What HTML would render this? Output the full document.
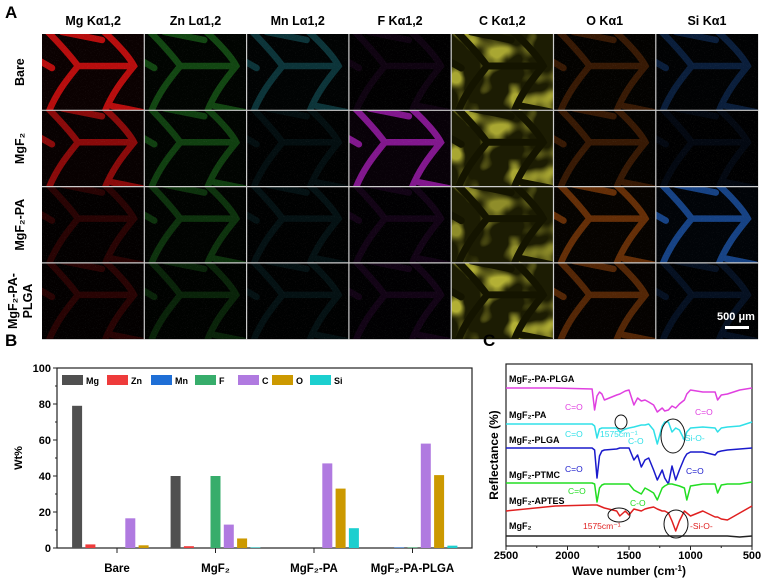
<!DOCTYPE html>
<html><head><meta charset="utf-8"><style>
html,body{margin:0;padding:0;background:#fff;}
body{width:764px;height:581px;overflow:hidden;font-family:"Liberation Sans",Arial,sans-serif;}
svg text{font-family:"Liberation Sans",Arial,sans-serif;}
</style></head><body>
<svg id="fig" width="764" height="581" viewBox="0 0 764 581" xmlns="http://www.w3.org/2000/svg">
<defs>
<filter id="speck" x="0" y="0" width="100%" height="100%">
<feTurbulence type="fractalNoise" baseFrequency="0.9" numOctaves="1" seed="3"/>
<feColorMatrix type="matrix" values="0 0 0 0 1  0 0 0 0 1  0 0 0 0 1  0 0 0 2.2 -1.2"/>
</filter>
<filter id="blotch" x="0" y="0" width="100%" height="100%">
<feTurbulence type="fractalNoise" baseFrequency="0.035" numOctaves="2" seed="7"/>
<feColorMatrix type="matrix" values="0 0 0 0 0.62  0 0 0 0 0.6  0 0 0 0 0.05  0 0 0 5 -2.5"/>
</filter>
<clipPath id="cellclip"><rect x="0" y="0" width="102" height="76"/></clipPath>
</defs>
<g id="panelA"></g>
<g id="panelB"></g>
<g id="panelC"></g>
</svg>
<script>
const NS='http://www.w3.org/2000/svg';
function mk(tag,attrs,parent,txt){const e=document.createElementNS(NS,tag);for(const k in attrs)e.setAttribute(k,attrs[k]);if(txt!==undefined)e.textContent=txt;parent.appendChild(e);return e;}

// ---------- Panel A ----------
const colHeaders=['Mg Kα1,2','Zn Lα1,2','Mn Lα1,2','F Kα1,2','C Kα1,2','O Kα1','Si Kα1'];
const colColors=['#e01010','#2aa02a','#28a8b8','#b020c0','#c8c820','#d06010','#2060c0'];
const rowLabels=['Bare','MgF₂','MgF₂-PA','MgF₂-PA-PLGA'];
const intens=[[0.95,0.5,0.35,0.1,0.8,0.3,0.35],[0.7,0.45,0.1,0.85,0.8,0.3,0.1],[0.2,0.35,0.12,0.12,0.65,0.55,0.8],[0.2,0.25,0.12,0.12,0.85,0.45,0.2]];
const A=document.getElementById('panelA');
mk('text',{x:5,y:18,'font-size':17,'font-weight':'bold'},A,'A');
const x0=42,y0=34,cw=102.3,ch=76.3;
mk('rect',{x:x0,y:y0,width:cw*7,height:ch*4,fill:'#000'},A);
colHeaders.forEach((h,i)=>{const t=mk('text',{x:x0+cw*i+cw/2,y:25,'font-size':12.5,'font-weight':'bold','text-anchor':'middle'},A,h);
});
rowLabels.forEach((r,j)=>{const cy=y0+ch*j+ch/2;
 if(j<3){const t=mk('text',{transform:`translate(24,${cy}) rotate(-90)`,'font-size':12.5,'font-weight':'bold','text-anchor':'middle'},A,r);}
 else{const t=mk('text',{transform:`translate(17,${cy}) rotate(-90)`,'font-size':12.5,'font-weight':'bold','text-anchor':'middle'},A,'MgF₂-PA-');
 const t2=mk('text',{transform:`translate(32,${cy}) rotate(-90)`,'font-size':12.5,'font-weight':'bold','text-anchor':'middle'},A,'PLGA');}
});
const stentD='M4 -4 C18 10 30 24 36 32 C28 42 14 58 6 80 M36 32 L92 32 M60 -4 C76 10 88 24 92 32 C84 42 70 58 62 80 M20 -2 L60 6 M70 72 L100 78 M-4 26 L10 34';
for(let j=0;j<4;j++)for(let i=0;i<7;i++){
 const g=mk('g',{transform:`translate(${x0+cw*i},${y0+ch*j})`,'clip-path':'url(#cellclip)'},A);
 
 const v=intens[j][i],c=colColors[i];
 if(i===4){
  mk('rect',{x:0,y:0,width:102,height:76,fill:'#1c1c03'},g);
  mk('rect',{x:0,y:0,width:102,height:76,filter:'url(#blotch)',opacity:v},g);
  mk('path',{d:stentD,fill:'none',stroke:'#141400',"stroke-width":7,'stroke-linecap':'round'},g);
 } else {
  mk('rect',{x:0,y:0,width:102,height:76,fill:c,opacity:v*0.05},g);
  mk('path',{d:stentD,fill:'none',stroke:c,"stroke-width":6.5,opacity:v*0.85,'stroke-linecap':'round'},g);
  mk('rect',{x:0,y:0,width:102,height:76,filter:'url(#speck)',opacity:0.1},g);
 }
}
for(let i=1;i<7;i++)mk('line',{x1:x0+cw*i,y1:y0,x2:x0+cw*i,y2:y0+ch*4,stroke:'#ccc','stroke-width':1.2},A);
for(let j=1;j<4;j++)mk('line',{x1:x0,y1:y0+ch*j,x2:x0+cw*7,y2:y0+ch*j,stroke:'#ccc','stroke-width':1.2},A);
mk('text',{x:736,y:320,'font-size':11,'font-weight':'bold','text-anchor':'middle',fill:'#fff'},A,'500 μm');
mk('rect',{x:725,y:326,width:24,height:3,fill:'#fff'},A);

// ---------- Panel B ----------
const bCategories=['Bare','MgF₂','MgF₂-PA','MgF₂-PA-PLGA'];
const bElements=['Mg','Zn','Mn','F','C','O','Si'];
const bColors=['#505050','#ee3b3b','#1f6fd6','#37ad6b','#b07ae0','#cc9900','#1ccfcf'];
const bSeries=[
 [79,40,0,0],[2,1,0,0],[0,0,0,0.3],[0,40,0,0.3],[16.5,13,47,58],[1.5,5.3,33,40.5],[0,0.3,11,1.3]];
const bTicks=[0,20,40,60,80,100];
const B=document.getElementById('panelB');
const bx0=57,bx1=472,byT=368,byB=548;
const by=v=>byB-(v/100)*(byB-byT);
const bcx=k=>117+k*98.5;
mk('text',{x:5,y:346,'font-size':17,'font-weight':'bold'},B,'B');
mk('rect',{x:bx0,y:byT,width:bx1-bx0,height:byB-byT,fill:'none',stroke:'#222','stroke-width':1.2},B);
bTicks.forEach(t=>{mk('line',{x1:bx0-4,y1:by(t),x2:bx0,y2:by(t),stroke:'#222'},B);
 if(t<100)mk('line',{x1:bx0-2,y1:by(t+10),x2:bx0,y2:by(t+10),stroke:'#222'},B);
 const e=mk('text',{x:bx0-6,y:by(t)+4,'font-size':11,'font-weight':'bold','text-anchor':'end'},B,String(t));});
const yt=mk('text',{transform:`translate(22,${(byT+byB)/2}) rotate(-90)`,'font-size':11,'font-weight':'bold','text-anchor':'middle'},B,'Wt%');
bCategories.forEach((c,k)=>{mk('line',{x1:bcx(k),y1:byB,x2:bcx(k),y2:byB+5,stroke:'#222'},B);
 const e=mk('text',{x:bcx(k),y:572,'font-size':11.5,'font-weight':'bold','text-anchor':'middle'},B,c);});
bSeries.forEach((s,si)=>{s.forEach((v,k)=>{const cx=bcx(k)+(si-3)*13.3;
 const r=mk('rect',{x:cx-5,y:by(v),width:10,height:byB-by(v),fill:bColors[si]},B);
 });});
const legX=[62,107,151,195,238,272,310];
bElements.forEach((el,i)=>{const g=mk('g',{},B);
 mk('rect',{x:legX[i],y:375,width:21,height:10,fill:bColors[i]},g);
 mk('text',{x:legX[i]+24,y:384,'font-size':9,'font-weight':'bold'},g,el);});

// ---------- Panel C ----------
const cWavenumbers=[2500,2100,1800,1780,1760,1740,1720,1700,1600,1575,1530,1500,1460,1430,1400,1370,1340,1300,1270,1230,1210,1180,1150,1120,1090,1050,1030,1000,900,800,780,750,700,600,500];
const cPAPLGA=[0,0,-1,-22,-8,-4,-6,-12,-7,-6,-3,-2,-17,-10,-13,-12,-14,-17,-24,-20,-23,-22,-18,-20,-16,-12,-6,-2,-4,-4,-12,-7,-6,-2,0];
const cPA=[0,0,0,-2,-14,-5,-4,-4,-4,-8,-5,-4,-3,-2,-1,-1,0,-6,-20,-2,2,2,-8,-4,-6,-16,-8,-4,-3,-4,-8,-4,-3,-2,2];
const cPLGA=[0,0,0,-2,-30,-8,-3,-2,-1,0,0,0,-12,-7,-19,-12,-10,-22,-32,-22,-30,-36,-18,-32,-22,-10,-6,-4,-4,-7,-4,-3,-2,-1,0];
const cPTMC=[0,0,0,-1,-19,-5,-2,-1,-1,-1,-1,-1,-7,-9,-11,-5,-7,-10,-17,-5,-3,-1,-1,-2,-3,-5,-17,-3,-1,-1,-10,-2,-1,-1,1];
const cAPTES=[-6,-1,0,0,0,-1,-2,-3,-6,-11,-6,-10,-4,-5,-6,-4,-3,-2,-4,-6,-6,-8,-16,-26,-16,-6,-8,-11,-6,-12,-12,-14,-15,-8,-1];
const cMgF2=[0,0,0,0,0,0,0,0,0,0,0,0,0,0,0,0,0,0,0,0,0,0,0,0,0,0,0,0,0,0,0,0,0,-1,0];
const cSeries=[cPAPLGA,cPA,cPLGA,cPTMC,cAPTES,cMgF2];
const cOffsets=[152,116,92,57,35,4];
const cNames=['MgF₂-PA-PLGA','MgF₂-PA','MgF₂-PLGA','MgF₂-PTMC','MgF₂-APTES','MgF₂'];
const cColors=['#e040e0','#30e0e8','#1a1acc','#22dd22','#e02020','#222'];
const cXTicks=[2500,2000,1500,1000,500];
const C=document.getElementById('panelC');
const cx0=506,cx1=752,cyT=364,cyB=546;
const cxs=w=>cx0+(2500-w)/2000*(cx1-cx0);
const cys=v=>540-v;
mk('text',{x:483,y:346,'font-size':17,'font-weight':'bold'},C,'C');
mk('rect',{x:cx0,y:cyT,width:cx1-cx0,height:cyB-cyT,fill:'none',stroke:'#222','stroke-width':1.2},C);
cXTicks.forEach((t,i)=>{mk('line',{x1:cxs(t),y1:cyB,x2:cxs(t),y2:cyB+4,stroke:'#222'},C);
 if(i<4)mk('line',{x1:cxs(t-250),y1:cyB,x2:cxs(t-250),y2:cyB+2,stroke:'#222'},C);
 const e=mk('text',{x:cxs(t),y:559,'font-size':11,'font-weight':'bold','text-anchor':'middle'},C,String(t));});
const xt=mk('text',{x:629,y:575,'font-size':12,'font-weight':'bold','text-anchor':'middle'},C,'');
xt.innerHTML='Wave number (cm<tspan dy="-4" font-size="8">-1</tspan><tspan dy="4">)</tspan>';
const cyt=mk('text',{transform:`translate(498,${(cyT+cyB)/2}) rotate(-90)`,'font-size':12,'font-weight':'bold','text-anchor':'middle'},C,'Reflectance (%)');
cSeries.forEach((s,si)=>{const pts=cWavenumbers.map((w,k)=>cxs(w).toFixed(1)+','+cys(s[k]+cOffsets[si]).toFixed(1)).join(' ');
 const p=mk('polyline',{points:pts,fill:'none',stroke:cColors[si],'stroke-width':1.5,'stroke-linejoin':'round'},C);
 });
const labY=[382,418,443,478,504,529];
cNames.forEach((n,i)=>{const e=mk('text',{x:509,y:labY[i],'font-size':9,'font-weight':'bold'},C,n);});
function ann(x,y,t,c){const e=mk('text',{x:x,y:y,'font-size':8.5,fill:c},C,t);return e;}
ann(565,410,'C=O','#e040e0');ann(695,415,'C=O','#e040e0');
ann(565,437,'C=O','#30e0e8');ann(600,437,'1575cm⁻¹','#30e0e8');ann(628,444,'C-O','#30e0e8');ann(682,441,'-Si-O-','#30e0e8');
ann(565,472,'C=O','#1a1acc');ann(686,474,'C=O','#1a1acc');
ann(568,494,'C=O','#22dd22');ann(630,506,'C-O','#22dd22');
ann(583,529,'1575cm⁻¹','#e02020');ann(690,529,'-Si-O-','#e02020');
mk('ellipse',{cx:621,cy:422,rx:6,ry:7,fill:'none',stroke:'#111','stroke-width':1},C);
mk('ellipse',{cx:673,cy:436,rx:12,ry:17,fill:'none',stroke:'#111','stroke-width':1},C);
mk('ellipse',{cx:619,cy:515,rx:11,ry:7,fill:'none',stroke:'#111','stroke-width':1},C);
mk('ellipse',{cx:676,cy:524,rx:12,ry:14,fill:'none',stroke:'#111','stroke-width':1},C);
</script>
</body></html>
